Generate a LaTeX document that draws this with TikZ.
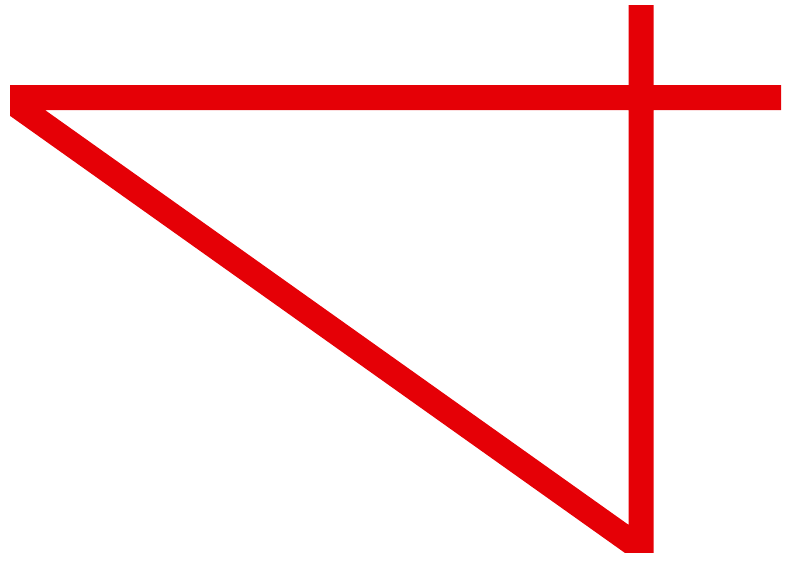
\documentclass[tikz,border=0pt]{standalone}
\usepackage{xcolor}
\definecolor{signalred}{RGB}{229,0,6}

\begin{document}
\begin{tikzpicture}[x=1pt,y=-1pt,
  redline/.style={draw=signalred,line width=25pt,line join=miter,miter limit=10}]
\useasboundingbox (0,0) rectangle (791,560);
\clip (10,5) rectangle (781,552);
\coordinate (east) at (781,97.5);
\coordinate (west) at (5.8,97.5);
\coordinate (foot) at (641,549);
\coordinate (top) at (641,5);
\draw[redline] (east) -- (west) -- (foot) -- (top);
\end{tikzpicture}
\end{document}
